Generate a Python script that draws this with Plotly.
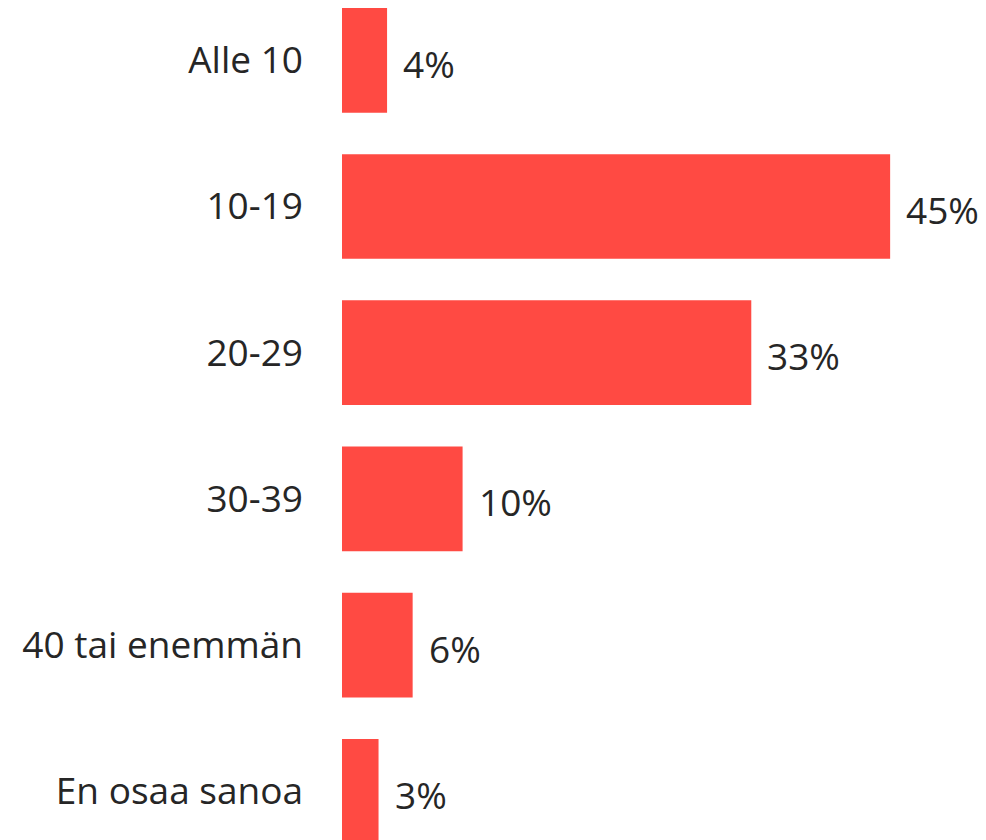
import plotly.graph_objects as go

categories = ["Alle 10", "10-19", "20-29", "30-39", "40 tai enemmän", "En osaa sanoa"]
values = [3.7, 45.0, 33.6, 9.9, 5.8, 3.0]
labels = ["4%", "45%", "33%", "10%", "6%", "3%"]

FONT = "Open Sans"
TXT = "#262626"
BAR = "#FF4A43"

fig = go.Figure(go.Bar(
    y=categories, x=values, orientation="h",
    marker=dict(color=BAR, line=dict(width=0)),
    hoverinfo="skip",
))

for cat, v, lab in zip(categories, values, labels):
    fig.add_annotation(x=v, y=cat, text=lab, showarrow=False,
                       xanchor="left", yanchor="middle", xshift=14, yshift=-3,
                       font=dict(family=FONT, size=37, color=TXT))

fig.update_layout(
    width=986, height=840,
    margin=dict(l=342, r=0, t=0, b=0),
    paper_bgcolor="white", plot_bgcolor="white",
    bargap=0.284,
    showlegend=False,
    xaxis=dict(range=[0, 52.87], visible=False, fixedrange=True),
    yaxis=dict(categoryorder="array", categoryarray=categories,
               range=[5.333, -0.4125], showgrid=False, zeroline=False,
               showline=False, ticks="", ticklabelstandoff=38, fixedrange=True,
               tickfont=dict(family=FONT, size=37, color=TXT)),
)

fig.write_html("out.html", config={"displayModeBar": False},
               post_script="document.body.style.margin='0';document.body.style.overflow='hidden';")
